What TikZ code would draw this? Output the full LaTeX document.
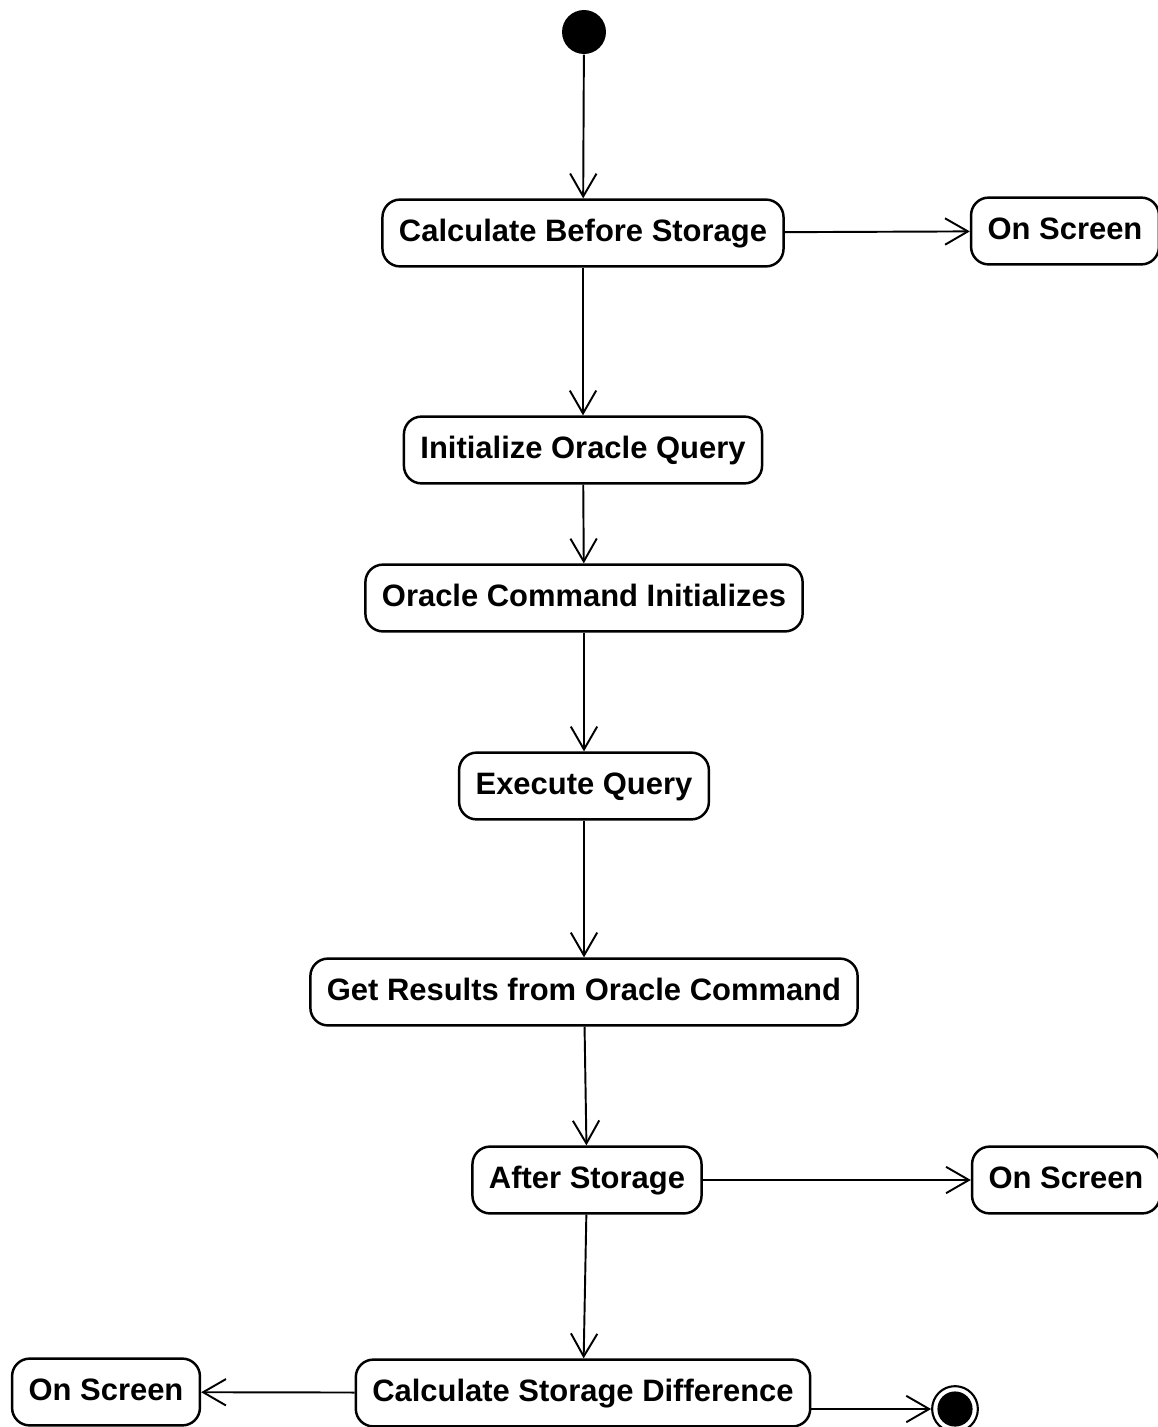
\documentclass[tikz,border=0pt]{standalone}
\usepackage{fontspec}
\setmainfont{Liberation Sans}
\usetikzlibrary{arrows.meta}

\begin{document}
\begin{tikzpicture}[x=0.01cm, y=-0.01cm,
    activity/.style={draw, rounded corners=5pt, line width=0.7pt, inner xsep=4.7pt,
      text height=6.5pt, text depth=1.6pt,
      minimum height=19pt, font=\fontsize{8.8}{10}\selectfont\bfseries},
    flow/.style={line width=0.55pt, -{Straight Barb[length=6.5pt, width=7.5pt]}},
    initstate/.style={circle, fill=black, minimum size=12.5pt, inner sep=0pt},
    endstate/.style={circle, draw, line width=0.6pt, minimum size=13pt, inner sep=0pt,
      path picture={\fill (path picture bounding box.center) circle (5pt);}}]
  \useasboundingbox (0,0) rectangle (1158,1427);

  % Start and end states
  \node[initstate] (start) at (584,32) {};
  \node[endstate] (final) at (955,1409) {};

  % Main chain of activities
  \node[activity] (before) at (583,233) {Calculate Before Storage};
  \node[activity] (init) at (583,450) {Initialize Oracle Query};
  \node[activity] (command) at (584,598) {Oracle Command Initializes};
  \node[activity] (execute) at (584,786) {Execute Query};
  \node[activity] (results) at (584,992) {Get Results from Oracle Command};
  \node[activity] (after) at (587,1180) {After Storage};
  \node[activity] (diff) at (583,1393) {Calculate Storage Difference};

  % Screen outputs
  \node[activity] (screen1) at (1065,231) {On Screen};
  \node[activity] (screen2) at (1066,1180) {On Screen};
  \node[activity] (screen3) at (106,1392) {On Screen};

  \draw[flow] (start) -- (before);
  \draw[flow] (before) -- (init);
  \draw[flow] (init) -- (command);
  \draw[flow] (command) -- (execute);
  \draw[flow] (execute) -- (results);
  \draw[flow] (results) -- (after);
  \draw[flow] (after) -- (diff);

  \draw[flow] (before) -- (screen1);
  \draw[flow] (after) -- (screen2);
  \draw[flow] (diff) -- (screen3);
  \draw[flow] (final -| diff.east) -- (final);
\end{tikzpicture}
\end{document}
